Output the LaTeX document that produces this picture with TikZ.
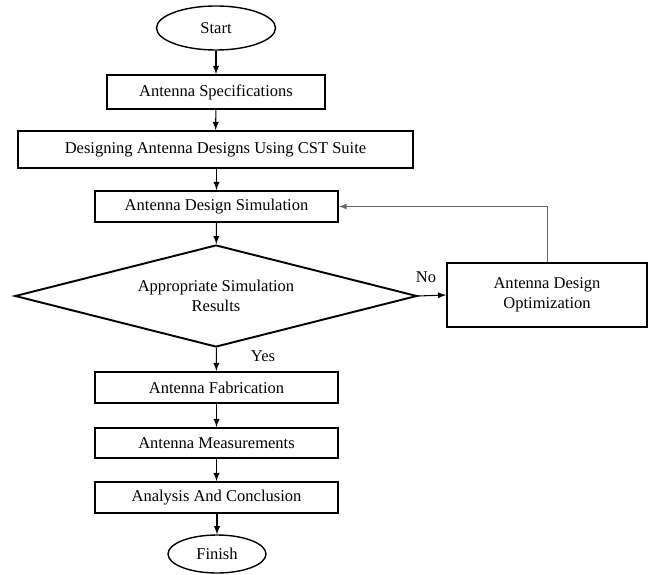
\documentclass[tikz,border=0pt]{standalone}
\usepackage{fontspec}
\setmainfont{Liberation Serif}
\usetikzlibrary{shapes.geometric}

\begin{document}
\begin{tikzpicture}[
  every node/.style={font=\fontsize{9.4}{11.4}\selectfont},
  stepbox/.style={rectangle,draw,line width=1.1pt,minimum width=4.86cm,minimum height=.62cm,inner sep=0},
  term/.style={ellipse,draw,line width=.8pt,inner sep=0},
  flow/.style={-latex,line width=.6pt}]
  \useasboundingbox (0,0) rectangle (13.06,-11.5);
  % main column
  \draw(4.32,-.56) node[term,minimum width=2.38cm,minimum height=.88cm] (start) {Start};
  \draw(4.32,-1.84) node[stepbox,minimum width=4.36cm,minimum height=.68cm] (spec) {Antenna Specifications};
  \draw(4.31,-2.99) node[stepbox,minimum width=7.9cm,minimum height=.74cm] (design) {Designing Antenna Designs Using CST Suite};
  \draw(4.33,-4.13) node[stepbox] (sim) {Antenna Design Simulation};
  \draw(4.32,-5.92) node[diamond,draw,line width=1.1pt,shape aspect=3.94,minimum width=8.04cm,minimum height=2.04cm,inner sep=0,align=center] (check) {Appropriate Simulation\\Results};
  \draw(10.94,-5.9) node[stepbox,minimum width=4cm,minimum height=1.28cm,align=center] (opt) {Antenna Design\\Optimization};
  \draw(4.33,-7.75) node[stepbox] (fab) {Antenna Fabrication};
  \draw(4.33,-8.86) node[stepbox,minimum height=.6cm] (meas) {Antenna Measurements};
  \draw(4.33,-9.95) node[stepbox] (ana) {Analysis And Conclusion};
  \draw(4.34,-11.08) node[term,minimum width=1.96cm,minimum height=.76cm] (finish) {Finish};
  % connectors
  \draw[flow] (start) -- (spec);
  \draw[flow] (spec) -- (design);
  \draw[flow] (design.south -| sim.north) -- (sim);
  \draw[flow] (sim) -- (check);
  \draw[flow] (check) -- (fab);
  \draw[flow] (fab) -- (meas);
  \draw[flow] (meas) -- (ana);
  \draw[flow] (ana.south -| finish.north) -- (finish);
  \draw[flow] (check.east) -- (opt.west);
  \draw[flow,draw=black!60,line width=.5pt] (opt.north) |- (sim.east);
  \node at (8.52,-5.54) (no) {No};
  \node at (5.26,-7.12) (yes) {Yes};
\end{tikzpicture}
\end{document}
